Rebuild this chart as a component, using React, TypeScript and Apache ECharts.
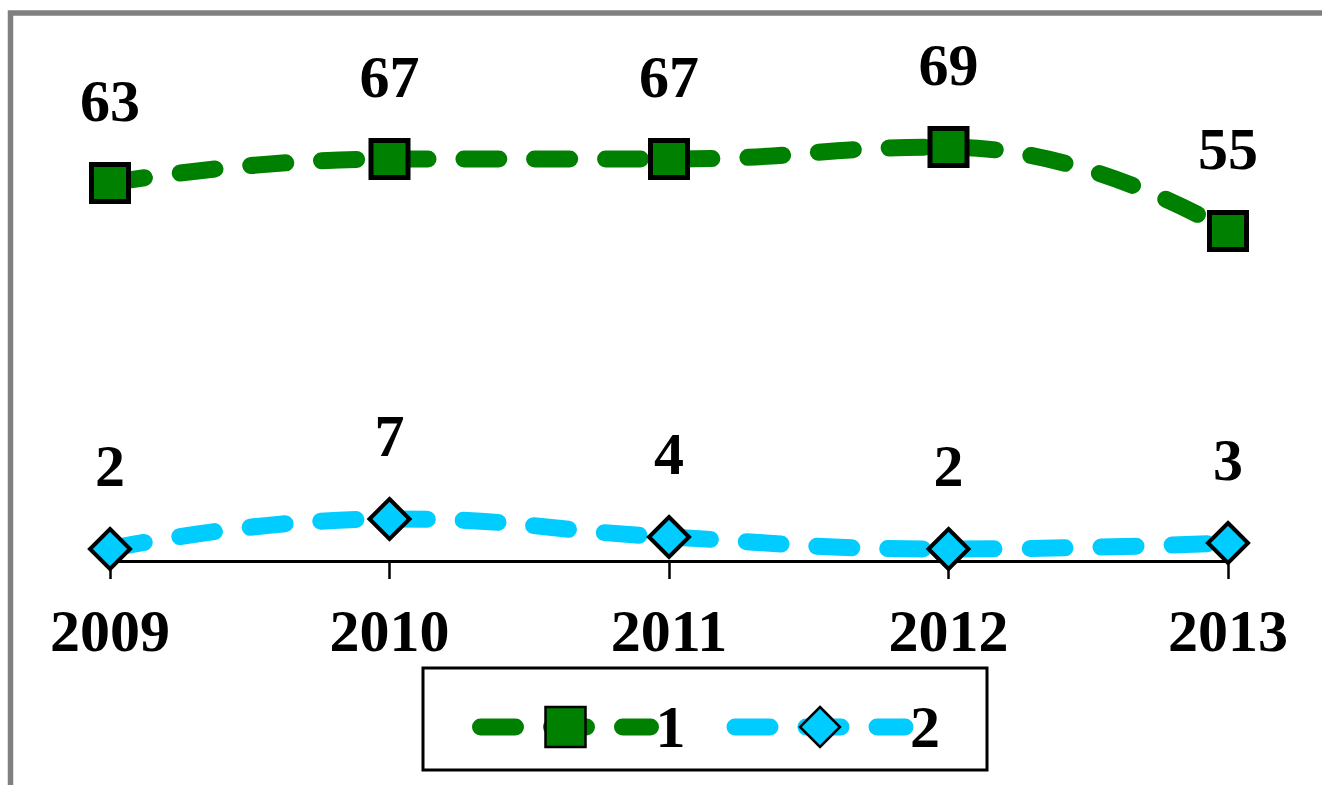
import React, { useEffect, useRef } from "react";
import * as echarts from "echarts";

const categories = ["2009", "2010", "2011", "2012", "2013"];
const series1 = [63, 67, 67, 69, 55];
const series2 = [2, 7, 4, 2, 3];
const seriesNames = ["1", "2"];

const FONT = "'Liberation Serif', 'Times New Roman', serif";

export default function App() {
  const ref = useRef<HTMLDivElement>(null);
  useEffect(() => {
    if (!ref.current) return;
    const chart = echarts.init(ref.current, null, { renderer: "svg" });
    const labelStyle = {
      show: true,
      position: "top" as const,
      distance: 31,
      color: "#000",
      fontFamily: FONT,
      fontSize: 60,
      fontWeight: "bold" as const,
    };
    chart.setOption({
      animation: false,
      backgroundColor: "#fff",
      grid: { left: 110, right: 94, top: 81, bottom: 224, containLabel: false },
      xAxis: {
        type: "category",
        data: categories,
        boundaryGap: false,
        axisLine: { lineStyle: { color: "#000", width: 3 } },
        axisTick: { show: true, length: 18, lineStyle: { color: "#000", width: 2.5 } },
        axisLabel: {
          color: "#000",
          fontFamily: FONT,
          fontSize: 60,
          fontWeight: "bold",
          margin: 40,
        },
        splitLine: { show: false },
      },
      yAxis: {
        type: "value",
        min: 0,
        max: 80,
        show: false,
        splitLine: { show: false },
      },
      legend: {
        data: seriesNames,
        left: 472,
        top: 697,
        itemWidth: 170,
        itemHeight: 50,
        itemGap: 41,
        padding: 0,
        lineStyle: { width: 17, type: [35, 36], cap: "round" },
        itemStyle: { borderColor: "#000", borderWidth: 2.5 },
        textStyle: {
          color: "#000",
          fontFamily: FONT,
          fontSize: 60,
          fontWeight: "bold",
        },
      },
      graphic: [
        {
          type: "rect",
          shape: { x: 10.5, y: 13, width: 1500, height: 1000 },
          style: { fill: "none", stroke: "#808080", lineWidth: 5.5 },
          silent: true,
        },
        {
          type: "rect",
          shape: { x: 423, y: 668, width: 564, height: 102 },
          style: { fill: "none", stroke: "#000", lineWidth: 3 },
          silent: true,
        },
      ],
      series: [
        {
          name: seriesNames[0],
          type: "line",
          data: series1,
          smooth: true,
          symbol: "rect",
          symbolSize: 37,
          lineStyle: { color: "#008000", width: 17, type: [35, 36], cap: "round" },
          itemStyle: { color: "#008000", borderColor: "#000", borderWidth: 5 },
          label: labelStyle,
        },
        {
          name: seriesNames[1],
          type: "line",
          data: series2,
          smooth: true,
          symbol: "diamond",
          symbolSize: 40,
          lineStyle: { color: "#00CCFF", width: 17, type: [35, 36], cap: "round" },
          itemStyle: { color: "#00CCFF", borderColor: "#000", borderWidth: 4 },
          label: labelStyle,
        },
      ],
    });
    return () => chart.dispose();
  }, []);
  return (
    <div
      ref={ref}
      style={{ position: "fixed", left: 0, top: 0, width: 1322, height: 785, background: "#fff" }}
    />
  );
}
